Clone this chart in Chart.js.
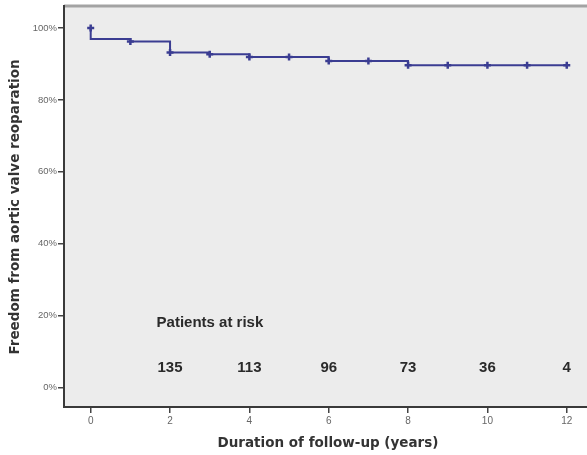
<!DOCTYPE html>
<html>
<head>
<meta charset="utf-8">
<script src="https://cdn.jsdelivr.net/npm/chart.js@4/dist/chart.umd.min.js"></script>
<style>
  html, body { margin: 0; padding: 0; background: #ffffff; overflow: hidden; }
  #wrap { width: 587px; height: 455px; position: relative; }
  #km { display: block; }
</style>
</head>
<body>
<div id="wrap"><canvas id="km"></canvas></div>
<script>
// Kaplan-Meier step curve: event times (years) and freedom from reoperation (%)
const stepYears   = [0, 0, 1, 2, 3, 4, 6, 8, 12];
const stepFreedom = [100, 96.9, 96.2, 93.2, 92.7, 91.9, 90.8, 89.6, 89.6];

// Censoring marks along the curve
const censorYears   = [0, 1, 2, 3, 4, 5, 6, 7, 8, 9, 10, 11, 12];
const censorFreedom = [100, 96.2, 93.2, 92.7, 91.9, 91.9, 90.8, 90.8, 89.6, 89.6, 89.6, 89.6, 89.6];

// Patients at risk
const riskYears  = [2, 4, 6, 8, 10, 12];
const riskCounts = [135, 113, 96, 73, 36, 4];

// Axis ticks
const xTicks = [0, 2, 4, 6, 8, 10, 12];
const yTicks = [0, 20, 40, 60, 80, 100];

const curveColor = '#3b3d92';
const textColor = '#2a2a2a';

const plotFrame = {
  id: 'plotFrame',
  beforeDraw(chart) {
    const { ctx, chartArea: a } = chart;
    ctx.save();
    ctx.fillStyle = '#ececec';
    ctx.fillRect(a.left, a.top, a.right - a.left, a.bottom - a.top);
    ctx.strokeStyle = '#a3a3a3';
    ctx.lineWidth = 3;
    ctx.beginPath();
    ctx.moveTo(a.left, a.top);
    ctx.lineTo(a.right, a.top);
    ctx.stroke();
    ctx.restore();
  }
};

const annotations = {
  id: 'annotations',
  afterDraw(chart) {
    const { ctx } = chart;
    const xs = chart.scales.x, ys = chart.scales.y;
    ctx.save();
    ctx.fillStyle = textColor;
    ctx.font = 'bold 15px "Liberation Sans", Arial, sans-serif';
    ctx.textBaseline = 'middle';
    ctx.textAlign = 'left';
    ctx.fillText('Patients at risk', xs.getPixelForValue(1.66), ys.getPixelForValue(18.1));
    ctx.textAlign = 'center';
    riskYears.forEach((yr, i) => {
      ctx.fillText(String(riskCounts[i]), xs.getPixelForValue(yr), ys.getPixelForValue(5.6));
    });

    // axis titles
    ctx.fillStyle = '#333333';
    ctx.font = 'bold 13.5px "DejaVu Sans", Verdana, sans-serif';
    ctx.textAlign = 'center';
    ctx.fillText('Duration of follow-up (years)', 328, 443);
    ctx.translate(15, 207);
    ctx.rotate(-Math.PI / 2);
    ctx.fillText('Freedom from aortic valve reoparation', 0, 0);
    ctx.restore();
  }
};

new Chart(document.getElementById('km'), {
  type: 'line',
  data: {
    datasets: [
      {
        data: stepYears.map((x, i) => ({ x, y: stepFreedom[i] })),
        borderColor: curveColor,
        borderWidth: 2,
        stepped: 'before',
        pointRadius: 0,
        fill: false
      },
      {
        type: 'scatter',
        data: censorYears.map((x, i) => ({ x, y: censorFreedom[i] })),
        pointStyle: 'cross',
        pointRadius: 3.5,
        borderColor: curveColor,
        borderWidth: 2.5,
        backgroundColor: curveColor,
        showLine: false
      }
    ]
  },
  options: {
    responsive: true,
    maintainAspectRatio: false,
    animation: false,
    layout: { autoPadding: false, padding: { top: 6, right: 0, left: 0, bottom: 0 } },
    plugins: { legend: { display: false }, tooltip: { enabled: false } },
    scales: {
      x: {
        type: 'linear',
        min: -0.673,
        max: 12.51,
        afterBuildTicks(s) { s.ticks = xTicks.map(v => ({ value: v })); },
        afterFit(s) { s.height = 48; s.paddingLeft = 0; s.paddingRight = 0; },
        grid: { drawOnChartArea: false, drawTicks: true, tickLength: 6, color: '#444', lineWidth: 1.5 },
        border: { display: true, color: '#3a3a3a', width: 2 },
        ticks: { color: '#666', font: { family: '"Liberation Sans", Arial, sans-serif', size: 10 }, padding: 2, maxRotation: 0 }
      },
      y: {
        type: 'linear',
        min: -5.37,
        max: 106.1,
        afterBuildTicks(s) { s.ticks = yTicks.map(v => ({ value: v })); },
        afterFit(s) { s.width = 64; s.paddingTop = 0; s.paddingBottom = 0; },
        grid: { drawOnChartArea: false, drawTicks: true, tickLength: 6, color: '#444', lineWidth: 1.5 },
        border: { display: true, color: '#3a3a3a', width: 2 },
        ticks: {
          color: '#666',
          font: { family: '"Liberation Sans", Arial, sans-serif', size: 9.5 },
          padding: 1,
          callback: v => v + '%'
        }
      }
    }
  },
  plugins: [plotFrame, annotations]
});
</script>
</body>
</html>
